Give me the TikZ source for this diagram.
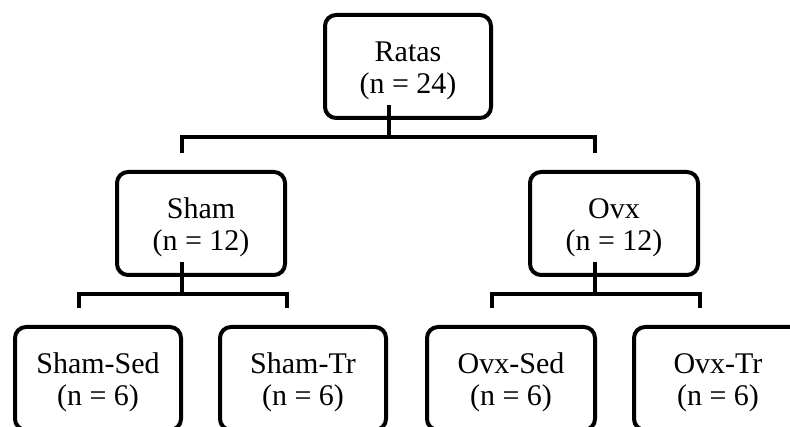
\documentclass[tikz,border=0pt]{standalone}
\usepackage{fontspec}
\setmainfont{Liberation Serif}
\begin{document}
\begin{tikzpicture}[x=1pt,y=-1pt,
  box/.style={draw=black, line width=4pt, rounded corners=11pt, outer sep=0pt,
    minimum width=168pt, minimum height=103pt, align=center, inner sep=0pt,
    font=\fontsize{30}{32}\selectfont},
  conn/.style={draw=black, line width=4pt, line join=miter}]
\useasboundingbox (0,0) rectangle (790,427);
\newcommand\dn{\rule{0pt}{28pt}}
\node[box, minimum width=166pt] (R) at (408,66.5) {\dn Ratas\\(n = 24)};
\node[box] (S) at (201,223.5) {\dn Sham\\(n = 12)};
\node[box] (O) at (614,223.5) {\dn Ovx\\(n = 12)};
\node[box, minimum width=166pt] (SS) at (98,378.5) {\dn Sham-Sed\\(n = 6)};
\node[box, minimum width=166pt] (ST) at (303,378.5) {\dn Sham-Tr\\(n = 6)};
\node[box] (OS) at (511,378.5) {\dn Ovx-Sed\\(n = 6)};
\node[box] (OT) at (718,378.5) {\dn Ovx-Tr\\(n = 6)};
% junctions
\coordinate (jR) at ([xshift=-19pt,yshift=-19pt]R.south);
\coordinate (jS) at ([xshift=-19pt,yshift=-19pt]S.south);
\coordinate (jO) at ([xshift=-19pt,yshift=-19pt]O.south);
% top level
\draw[conn] ([xshift=-19pt,yshift=13pt]R.south) -- (jR);
\draw[conn] ([xshift=-19pt,yshift=19pt]S.north) |- (jR) -| ([xshift=-19pt,yshift=19pt]O.north);
% Sham
\draw[conn] ([xshift=-19pt,yshift=13pt]S.south) -- (jS);
\draw[conn] ([xshift=-19pt,yshift=19pt]SS.north) |- (jS) -| ([xshift=-16pt,yshift=19pt]ST.north);
% Ovx
\draw[conn] ([xshift=-19pt,yshift=13pt]O.south) -- (jO);
\draw[conn] ([xshift=-19pt,yshift=19pt]OS.north) |- (jO) -| ([xshift=-18pt,yshift=19pt]OT.north);
\end{tikzpicture}
\end{document}
